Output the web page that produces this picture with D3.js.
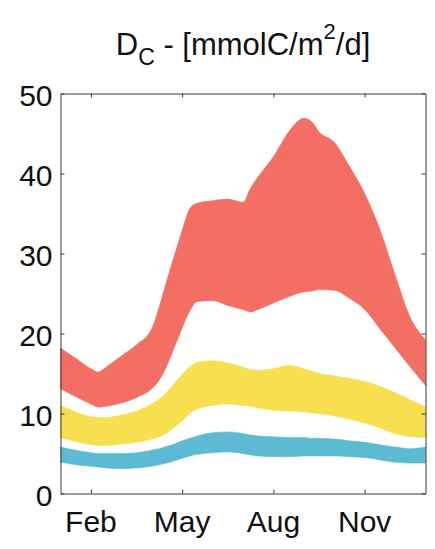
<!DOCTYPE html>
<html>
<head>
<meta charset="utf-8">
<script src="https://d3js.org/d3.v7.min.js"></script>
<style>
  html, body { margin: 0; padding: 0; background: #fff; }
  svg { display: block; }
  text { font-family: "Liberation Sans", Arial, Helvetica, sans-serif; fill: #111; }
</style>
</head>
<body>
<script>
// Month position (1 = Jan, 13 = following Jan)
const months = [1, 1.5, 2, 2.25, 2.5, 3, 3.5, 4, 4.25, 4.5, 4.75, 5, 5.25, 5.5, 6, 6.5, 7, 7.25, 7.5, 8, 8.5, 9, 9.25, 9.5, 10, 10.5, 11, 11.5, 12, 12.5, 13];

// Upper and lower envelopes of each band, mmolC/m^2/d
const redHigh = [18.2, 16.9, 15.6, 15.2, 15.8, 17.2, 18.6, 20.6, 23.4, 26.7, 29.8, 32.9, 35.6, 36.3, 36.6, 36.8, 36.4, 38.2, 39.6, 42.1, 45.2, 46.9, 46.5, 45.2, 43.9, 40.9, 37.5, 33.0, 27.3, 22.0, 19.2];
const redLow = [13.1, 12.1, 11.2, 10.8, 10.9, 11.3, 12.0, 13.1, 14.2, 16.0, 18.3, 20.7, 22.8, 24.0, 24.1, 23.5, 23.0, 22.7, 23.0, 23.8, 24.6, 25.2, 25.3, 25.5, 25.4, 24.4, 23.0, 20.6, 18.2, 15.8, 13.5];
const yellowHigh = [11.0, 10.2, 9.6, 9.5, 9.5, 9.8, 10.3, 11.2, 11.8, 12.7, 13.8, 14.9, 15.8, 16.4, 16.6, 16.3, 15.8, 15.5, 15.4, 15.6, 16.0, 15.6, 15.3, 15.0, 14.7, 14.4, 14.0, 13.4, 12.6, 11.7, 10.8];
const yellowLow = [7.0, 6.5, 6.1, 6.0, 6.0, 6.2, 6.4, 6.8, 7.1, 7.6, 8.3, 9.1, 10.0, 10.6, 11.0, 11.2, 11.0, 10.9, 10.7, 10.4, 10.3, 10.2, 10.1, 10.0, 9.7, 9.3, 8.8, 8.2, 7.5, 7.1, 7.0];
const blueHigh = [5.8, 5.4, 5.1, 5.0, 5.0, 5.0, 5.1, 5.4, 5.6, 5.9, 6.2, 6.6, 6.9, 7.2, 7.6, 7.7, 7.5, 7.3, 7.2, 7.1, 7.0, 7.0, 6.9, 6.9, 6.8, 6.6, 6.4, 6.1, 5.8, 5.6, 5.8];
const blueLow = [3.9, 3.6, 3.4, 3.3, 3.2, 3.1, 3.2, 3.4, 3.6, 3.8, 4.1, 4.4, 4.7, 4.9, 5.1, 5.2, 5.0, 4.8, 4.7, 4.6, 4.6, 4.7, 4.7, 4.7, 4.7, 4.6, 4.5, 4.2, 3.9, 3.8, 3.8];

// Axis ticks
const monthTicks = [2, 5, 8, 11];
const monthLabels = ["Feb", "May", "Aug", "Nov"];
const yTicks = [0, 10, 20, 30, 40, 50];

const bands = [
  { name: "red", high: redHigh, low: redLow, color: "#F36E63" },
  { name: "yellow", high: yellowHigh, low: yellowLow, color: "#F7DF4F" },
  { name: "blue", high: blueHigh, low: blueLow, color: "#5CBAD2" }
];

const W = 435, H = 549;
const plotLeft = 60.5, plotRight = 425.5, plotTop = 93.5, plotBottom = 493.5;

const svg = d3.select("body").append("svg")
  .attr("width", W).attr("height", H);

const x = d3.scaleLinear().domain([1, 13]).range([plotLeft, plotRight]);
const y = d3.scaleLinear().domain([0, 50]).range([plotBottom, plotTop]);

// Filled bands
const area = d3.area()
  .x((d, i) => x(months[i]))
  .y0(d => y(d[0]))
  .y1(d => y(d[1]))
  .curve(d3.curveMonotoneX);

bands.forEach(b => {
  const pts = months.map((m, i) => [b.low[i], b.high[i]]);
  svg.append("path")
    .datum(pts)
    .attr("class", "band band-" + b.name)
    .attr("d", area)
    .attr("fill", b.color)
    .attr("stroke", b.color)
    .attr("stroke-width", 0.6);
});

// Box axes with inward ticks on all four sides
const axisColor = "#3a3a3a";
const tickLen = 4;

function styleAxis(g) {
  g.select(".domain").attr("stroke", axisColor).attr("stroke-width", 1);
  g.selectAll(".tick line").attr("stroke", axisColor).attr("stroke-width", 1);
  g.selectAll(".tick text").remove();
}

svg.append("g")
  .attr("transform", `translate(0,${plotBottom})`)
  .call(d3.axisBottom(x).tickValues(monthTicks).tickSizeInner(-tickLen).tickSizeOuter(0))
  .call(styleAxis);
svg.append("g")
  .attr("transform", `translate(0,${plotTop})`)
  .call(d3.axisTop(x).tickValues(monthTicks).tickSizeInner(-tickLen).tickSizeOuter(0))
  .call(styleAxis);
svg.append("g")
  .attr("transform", `translate(${plotLeft},0)`)
  .call(d3.axisLeft(y).tickValues(yTicks).tickSizeInner(-tickLen).tickSizeOuter(0))
  .call(styleAxis);
svg.append("g")
  .attr("transform", `translate(${plotRight},0)`)
  .call(d3.axisRight(y).tickValues(yTicks).tickSizeInner(-tickLen).tickSizeOuter(0))
  .call(styleAxis);

// Tick labels
svg.append("g").selectAll("text")
  .data(yTicks)
  .join("text")
  .attr("x", plotLeft - 8)
  .attr("y", d => y(d) + 12.5)
  .attr("text-anchor", "end")
  .attr("font-size", 30)
  .text(d => d);

svg.append("g").selectAll("text")
  .data(monthTicks)
  .join("text")
  .attr("x", d => x(d))
  .attr("y", plotBottom + 38.5)
  .attr("text-anchor", "middle")
  .attr("font-size", 30)
  .text((d, i) => monthLabels[i]);

// Title: D_C - [mmolC/m^2/d]
const title = svg.append("text")
  .attr("x", (plotLeft + plotRight) / 2)
  .attr("y", 55)
  .attr("text-anchor", "middle")
  .attr("font-size", 31);
title.append("tspan").text("D");
title.append("tspan").attr("font-size", 23).attr("dy", 10).text("C");
title.append("tspan").attr("dy", -10).text(" - [mmolC/m");
title.append("tspan").attr("font-size", 22).attr("dy", -16).text("2");
title.append("tspan").attr("dy", 16).text("/d]");
</script>
</body>
</html>
